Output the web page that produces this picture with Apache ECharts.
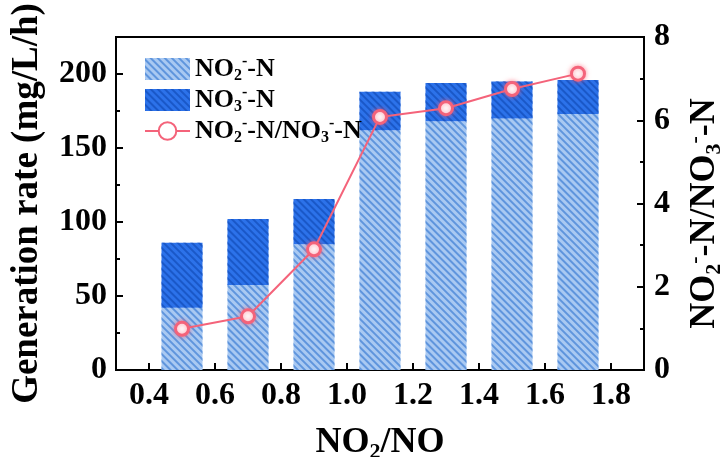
<!DOCTYPE html>
<html>
<head>
<meta charset="utf-8">
<script src="https://cdn.jsdelivr.net/npm/echarts@6/dist/echarts.min.js"></script>
<style>
html,body{margin:0;padding:0;background:#fff;}
#chart{width:723px;height:457px;}
</style>
</head>
<body>
<div id="chart"></div>
<script>
// ---- data ----
const xTickLabels = ['0.3','0.4','0.5','0.6','0.7','0.8','0.9','1.0','1.1','1.2','1.3','1.4','1.5','1.6','1.7','1.8','1.9'];
const ratioNO = ['0.5','0.7','0.9','1.1','1.3','1.5','1.7'];
const no2Rate = [42, 57.5, 85, 162, 168, 170, 173];
const no3Rate = [44, 44.5, 30.5, 26, 26, 25, 23];
const no2no3Ratio = [0.99, 1.29, 2.9, 6.08, 6.29, 6.75, 7.12];

const FF = 'Liberation Serif';
function richStyles(F, L) {
  L = L || Math.round(F * 1.15);
  return {
    n: {fontFamily: FF, fontWeight: 'bold', fontSize: F, lineHeight: L, color: '#000'},
    sub: {fontFamily: FF, fontWeight: 'bold', fontSize: Math.round(F * 0.6), lineHeight: L, verticalAlign: 'bottom', color: '#000'},
    sup: {fontFamily: FF, fontWeight: 'bold', fontSize: Math.round(F * 0.6), lineHeight: L, verticalAlign: 'top', color: '#000'}
  };
}
const legendText = {
  no2: '{n|NO}{sub|2}{sup|-}{n|-N}',
  no3: '{n|NO}{sub|3}{sup|-}{n|-N}',
  ratio: '{n|NO}{sub|2}{sup|-}{n|-N/NO}{sub|3}{sup|-}{n|-N}'
};

const chart = echarts.init(document.getElementById('chart'), null, {renderer: 'canvas'});
const axisLine = {show: true, lineStyle: {color: '#000', width: 2}};
const tickFont = {fontFamily: FF, fontWeight: 'bold', fontSize: 32, color: '#000'};

const option = {
  backgroundColor: '#fff',
  animation: false,
  grid: {left: 116, right: 79, top: 37, bottom: 87, containLabel: false, outerBoundsMode: 'none',
    show: true, borderColor: '#000', borderWidth: 2, backgroundColor: 'transparent'},
  legend: {
    orient: 'vertical', left: 144, top: 54, padding: 0, itemWidth: 45, itemHeight: 22, itemGap: 1,
    data: [{name: 'no2', icon: 'rect'}, {name: 'no3', icon: 'rect'}, {name: 'ratio'}],
    formatter: function (name) { return legendText[name]; },
    textStyle: {fontFamily: FF, fontWeight: 'bold', fontSize: 26, rich: richStyles(26, 30)}
  },
  xAxis: [
    {
      type: 'category', data: xTickLabels, boundaryGap: false, position: 'bottom',
      axisLine: Object.assign({onZero: false}, axisLine),
      axisTick: {show: true, inside: true, length: 7, interval: function (i) { return i % 2 === 1; }, lineStyle: {color: '#000', width: 2}},
      axisLabel: Object.assign({interval: function (i) { return i % 2 === 1; }, margin: 10}, tickFont),
      splitLine: {show: false},
      name: '{n|NO}{sub|2}{n|/NO}', nameLocation: 'middle', nameGap: 52,
      nameTextStyle: {rich: richStyles(36)}
    },
    {
      type: 'category', data: xTickLabels, boundaryGap: false, position: 'bottom',
      axisLine: {show: false, onZero: false},
      axisTick: {show: true, inside: true, length: 4, interval: function (i) { return i % 2 === 0 && i > 0 && i < 16; }, lineStyle: {color: '#000', width: 2}},
      axisLabel: {show: false}, splitLine: {show: false}
    }
  ],
  yAxis: [
    {
      type: 'value', position: 'left', min: 0, max: 225, interval: 50,
      axisLine: axisLine,
      axisTick: {show: true, inside: true, length: 7, lineStyle: {color: '#000', width: 2}},
      axisLabel: Object.assign({margin: 9, formatter: function (v) { return v % 50 === 0 ? String(v) : ''; }}, tickFont),
      splitLine: {show: false},
      name: 'Generation rate (mg/L/h)', nameLocation: 'middle', nameGap: 70, nameRotate: 90,
      nameTextStyle: {fontFamily: FF, fontWeight: 'bold', fontSize: 37, color: '#000'}
    },
    {
      type: 'value', position: 'left', min: 0, max: 225, interval: 25,
      axisLine: {show: false},
      axisTick: {show: true, inside: true, length: 4, lineStyle: {color: '#000', width: 2}},
      axisLabel: {show: false}, splitLine: {show: false}
    },
    {
      type: 'value', position: 'right', min: 0, max: 8, interval: 2,
      axisLine: axisLine,
      axisTick: {show: true, inside: true, length: 7, lineStyle: {color: '#000', width: 2}},
      axisLabel: Object.assign({margin: 10}, tickFont),
      splitLine: {show: false},
      name: '{n|NO}{sub|2}{sup|-}{n|-N/NO}{sub|3}{sup|-}{n|-N}', nameLocation: 'middle', nameGap: 40, nameRotate: 90,
      nameTextStyle: {rich: richStyles(36), padding: [0, 20, 0, 0]}
    },
    {
      type: 'value', position: 'right', min: 0, max: 8, interval: 1,
      axisLine: {show: false},
      axisTick: {show: true, inside: true, length: 4, lineStyle: {color: '#000', width: 2}},
      axisLabel: {show: false}, splitLine: {show: false}
    }
  ],
  series: [
    {
      name: 'no2', type: 'bar', stack: 'rate', xAxisIndex: 0, yAxisIndex: 0, barWidth: 41,
      data: ratioNO.map(function (x, i) { return [x, no2Rate[i]]; }),
      itemStyle: {
        color: '#a9c9f2',
        decal: {symbol: 'rect', symbolSize: 1, dashArrayX: [1, 0], dashArrayY: [2, 2.4], rotation: Math.PI / 4, color: '#5f95dd'}
      }
    },
    {
      name: 'no3', type: 'bar', stack: 'rate', xAxisIndex: 0, yAxisIndex: 0, barWidth: 41,
      data: ratioNO.map(function (x, i) { return [x, no3Rate[i]]; }),
      itemStyle: {
        color: '#2c72ea',
        decal: {symbol: 'rect', symbolSize: 1, dashArrayX: [1, 0], dashArrayY: [2, 2.4], rotation: Math.PI / 4, color: '#1a58c8'}
      }
    },
    {
      name: 'ratio', type: 'line', xAxisIndex: 0, yAxisIndex: 2, z: 5,
      data: ratioNO.map(function (x, i) { return [x, no2no3Ratio[i]]; }),
      symbol: 'circle', symbolSize: 13,
      lineStyle: {color: '#f4637a', width: 2},
      itemStyle: {color: '#ffffff', borderColor: '#f4637a', borderWidth: 3, shadowBlur: 5, shadowColor: 'rgba(255,90,110,0.6)'}
    }
  ]
};
chart.setOption(option);
</script>
</body>
</html>
